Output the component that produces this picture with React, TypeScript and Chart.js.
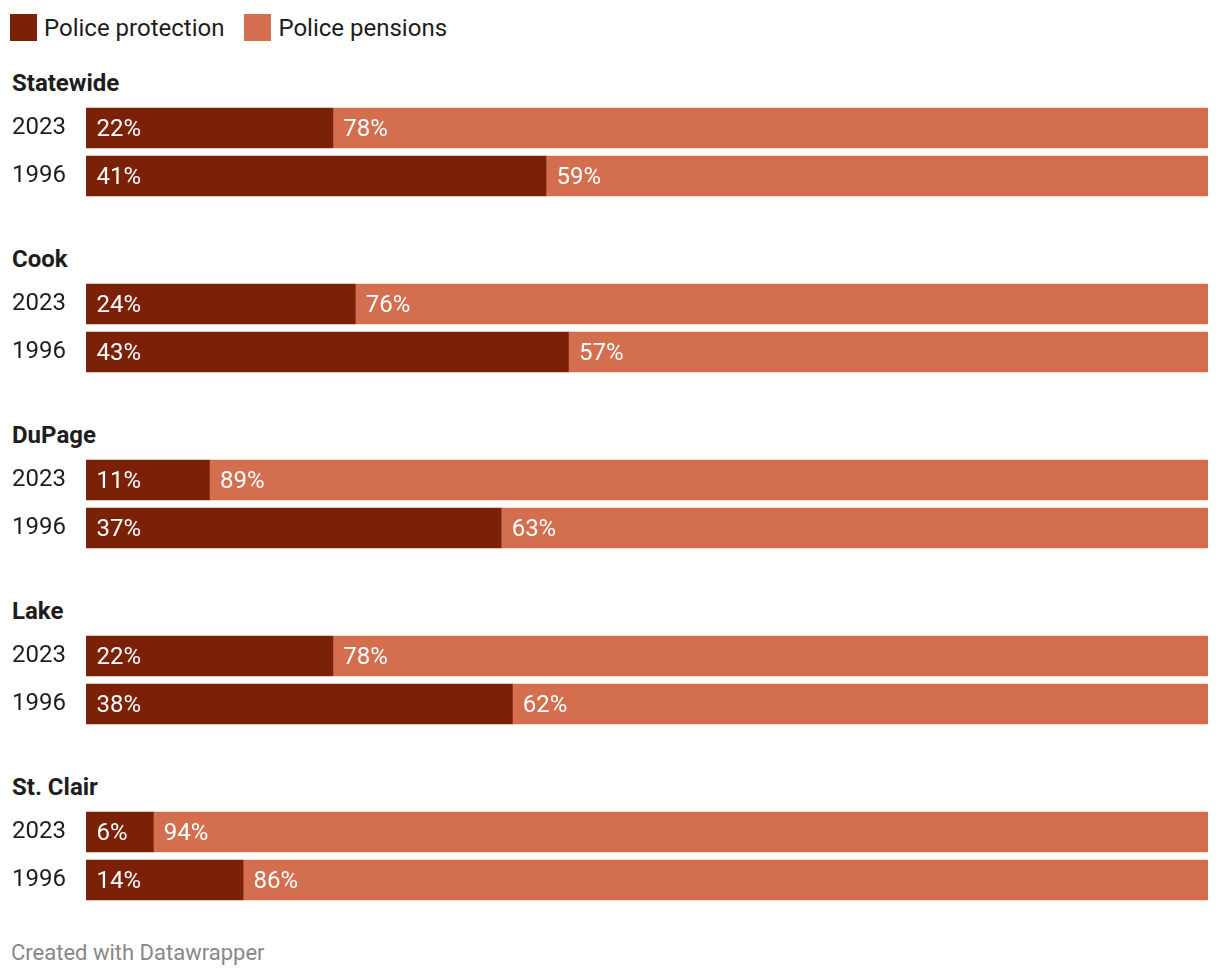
import React, { useEffect, useRef } from "react";
import { Chart, registerables } from "chart.js";
Chart.register(...registerables);

const groups = ["Statewide", "Cook", "DuPage", "Lake", "St. Clair"];
const years = ["2023", "1996"];
const protection = [
  [22, 41],
  [24, 43],
  [11, 37],
  [22, 38],
  [6, 14],
];
const pensions = [
  [78, 59],
  [76, 57],
  [89, 63],
  [78, 62],
  [94, 86],
];
const seriesNames = ["Police protection", "Police pensions"];
const seriesColors = ["#7b2108", "#d36f4e"];
const footerText = "Created with Datawrapper";

const FONT = "Roboto, 'Noto Sans', sans-serif";
const TEXT = "#1d1d1d";

const labelPlugin = {
  id: "barLabels",
  afterDatasetsDraw(chart: any) {
    const ctx = chart.ctx;
    ctx.save();
    ctx.font = `24px ${FONT}`;
    ctx.fillStyle = "#ffffff";
    ctx.textBaseline = "middle";
    ctx.textAlign = "left";
    chart.data.datasets.forEach((ds: any, di: number) => {
      chart.getDatasetMeta(di).data.forEach((bar: any, i: number) => {
        const p = bar.getProps(["x", "base", "y"], true);
        ctx.fillText(ds.data[i] + "%", Math.min(p.x, p.base) + 10.5, p.y + 1.5);
      });
    });
    ctx.restore();
  },
};

function GroupChart({ index }: { index: number }) {
  const ref = useRef<HTMLCanvasElement>(null);
  useEffect(() => {
    if (!ref.current) return;
    const chart = new Chart(ref.current, {
      type: "bar",
      data: {
        labels: years,
        datasets: [
          {
            label: seriesNames[0],
            data: protection[index],
            backgroundColor: seriesColors[0],
            barThickness: 40,
            borderWidth: 0,
          },
          {
            label: seriesNames[1],
            data: pensions[index],
            backgroundColor: seriesColors[1],
            barThickness: 40,
            borderWidth: 0,
          },
        ],
      },
      options: {
        indexAxis: "y",
        animation: false,
        responsive: false,
        maintainAspectRatio: false,
        layout: { autoPadding: false, padding: { left: 12, right: 12, top: 0, bottom: 0 } },
        plugins: { legend: { display: false }, tooltip: { enabled: false } },
        scales: {
          x: { stacked: true, min: 0, max: 100, display: false },
          y: {
            stacked: true,
            offset: true,
            grid: { display: false, drawTicks: false },
            border: { display: false },
            afterFit: (s: any) => {
              s.width = 74;
              s.paddingTop = 0;
              s.paddingBottom = 0;
            },
            ticks: {
              crossAlign: "far",
              padding: 0,
              color: TEXT,
              font: { family: FONT, size: 24 },
            },
          },
        },
      },
      plugins: [labelPlugin],
    });
    return () => chart.destroy();
  }, [index]);
  return <canvas ref={ref} width={1220} height={96} style={{ display: "block" }} />;
}

export default function App() {
  return (
    <div
      style={{
        position: "absolute",
        top: 0,
        left: 0,
        width: 1220,
        height: 976,
        background: "#fff",
        fontFamily: FONT,
        color: TEXT,
      }}
    >
      <div style={{ position: "absolute", top: 14, left: 10, display: "flex", alignItems: "center", fontSize: 24, lineHeight: "27px" }}>
        {seriesNames.map((n, i) => (
          <div key={n} style={{ display: "flex", alignItems: "center", marginRight: 20 }}>
            <span style={{ display: "inline-block", width: 27, height: 27, background: seriesColors[i], marginRight: 7 }} />
            <span style={{ position: "relative", top: 1 }}>{n}</span>
          </div>
        ))}
      </div>
      {groups.map((g, i) => (
        <React.Fragment key={g}>
          <div
            style={{
              position: "absolute",
              top: 69 + 176 * i,
              left: 12,
              fontSize: 24,
              fontWeight: 700,
              lineHeight: "28px",
            }}
          >
            {g}
          </div>
          <div style={{ position: "absolute", top: 104 + 176 * i, left: 0 }}>
            <GroupChart index={i} />
          </div>
        </React.Fragment>
      ))}
      <div style={{ position: "absolute", top: 940, left: 11, fontSize: 22, lineHeight: "26px", color: "#888" }}>
        {footerText}
      </div>
    </div>
  );
}
